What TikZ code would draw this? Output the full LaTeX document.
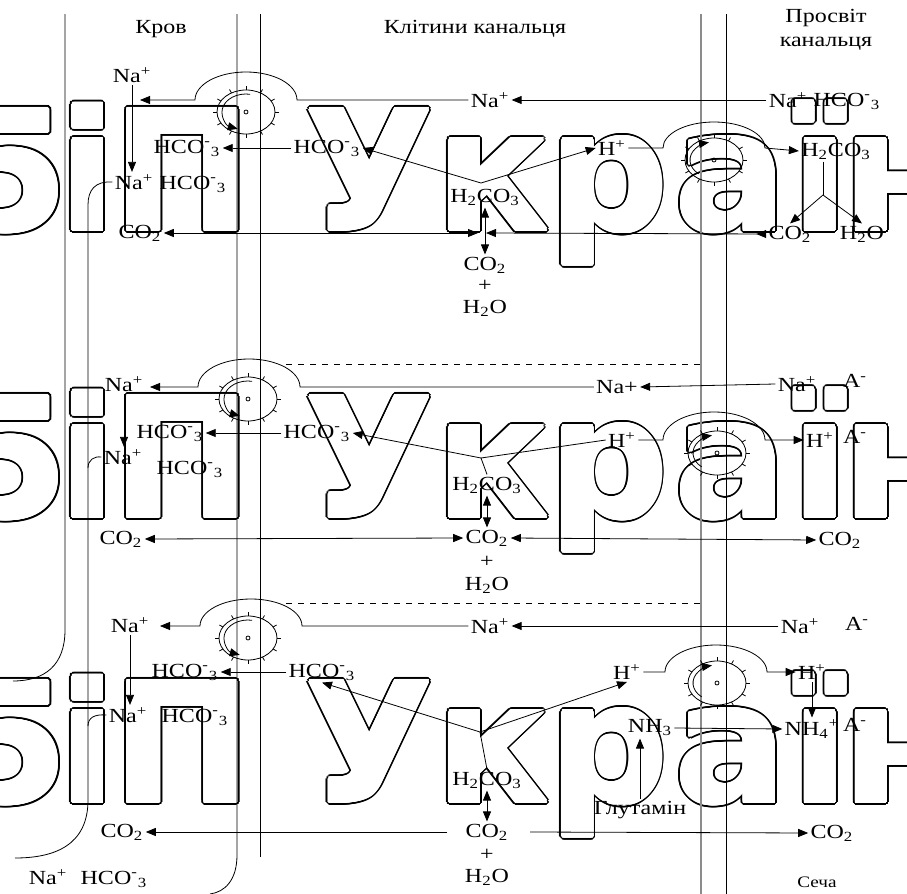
\documentclass[tikz,border=0pt]{standalone}
\usepackage{fontspec}
\setmainfont{Liberation Serif}[FakeStretch=1.2]
\newfontfamily\wmfont{DejaVu Sans}
\usetikzlibrary{arrows.meta, calc}
% one row of the watermark, glyph by glyph
\newcommand\wmrow{\rlap{\hspace*{-24.25pt}5}\rlap{\hspace*{29pt}і}\rlap{\hspace*{55.5pt}П}%
    \rlap{\hspace*{152pt}У}\rlap{\hspace*{217.5pt}к}\rlap{\hspace*{274pt}р}%
    \rlap{\hspace*{336.75pt}а}\rlap{\hspace*{395pt}ї}\rlap{\hspace*{420.5pt}н}}

\begin{document}
\begin{tikzpicture}[x=0.5pt, y=-0.5pt, >={Triangle[length=5pt,width=4pt]},
    line width=0.4pt, every node/.style={inner sep=1pt},
    wm/.style={font=\wmfont\bfseries\fontsize{83}{84}\selectfont, inner sep=0pt, anchor=base west},
    lumen/.style={black!45, line width=0.8pt},
    small/.style={font=\footnotesize}]
    \useasboundingbox (0,0) rectangle (907,894);
    \clip (0,0) rectangle (907,894);

    % Watermark letters, outlined
    \foreach \wy in {230,517,802}{
        \foreach \a in {0,22.5,...,337.5}
            \node[wm] (wmOut) at ([shift={(\a:3.5)}]0,\wy) {\wmrow};
        \foreach \a in {0,22.5,...,337.5}
            \node[wm, white] (wmIn) at ([shift={(\a:1.5)}]0,\wy) {\wmrow};
        \node[wm, white] (wmIn) at (0,\wy) {\wmrow};
    }

    % Titles
    \node (tBlood) at (161,29) {Кров};
    \node (tCell) at (475,29) {Клітини канальця};
    \node[align=center] (tLumen) at (826,30) {Просвіт\\канальця};

    % Membranes and walls
    \draw (65,14) -- (65,630) .. controls (65,665) and (45,681) .. (13,681);
    \draw (237,14) -- (237,855) .. controls (237,880) and (225,892) .. (210,894);
    \draw (260,14) -- (260,857);
    \draw[lumen] (701,14) -- (701,894);
    \draw (726,14) -- (726,894);
    \draw[dashed] (286,364) -- (700,364);
    \draw[dashed] (286,603) -- (700,603);

    % Pumps on the blood side
    \foreach \cx/\cy in {246/112, 248/399, 248/638}{
        \draw (\cx,\cy) ellipse [x radius=29, y radius=22];
        \draw (\cx,\cy) circle [radius=2];
        \foreach \t in {0,30,...,330}
            \draw ([shift={(\t:29 and 22)}]\cx,\cy) -- ([shift={(\t:33 and 26)}]\cx,\cy);
        \draw[->] ([shift={(280:24 and 18)}]\cx,\cy) arc [start angle=280, end angle=110, x radius=24, y radius=18];
    }
    % Pumps on the lumen side
    \foreach \cx/\cy in {714/160, 717/453, 717/683}{
        \draw (\cx,\cy) ellipse [x radius=29, y radius=22];
        \draw (\cx,\cy) circle [radius=2];
        \foreach \t in {0,30,...,330}
            \draw ([shift={(\t:29 and 22)}]\cx,\cy) -- ([shift={(\t:33 and 26)}]\cx,\cy);
        \draw[->] ([shift={(130:24 and 18)}]\cx,\cy) arc [start angle=130, end angle=258, x radius=24, y radius=18];
    }

    % ---------- Panel 1: HCO3 reabsorption ----------
    \node (naA1) at (132,75) {Na\textsuperscript{+}};
    \node (naB1) at (134,182) {Na\textsuperscript{+}};
    \node (hcoB1) at (193,184) {HCO\textsuperscript{-}\textsubscript{3}};
    \node (hcoL1) at (187,148) {HCO\textsuperscript{-}\textsubscript{3}};
    \node (hcoM1) at (327,148) {HCO\textsuperscript{-}\textsubscript{3}};
    \node (naM1) at (490,100) {Na\textsuperscript{+}};
    \node (naR1) at (788,100) {Na\textsuperscript{+}};
    \node (hcoR1) at (847,101) {HCO\textsuperscript{-}\textsubscript{3}};
    \node (hM1) at (612,148) {H\textsuperscript{+}};
    \node (hcR1) at (836,151) {H\textsubscript{2}CO\textsubscript{3}};
    \node (hc1) at (485,197) {H\textsubscript{2}CO\textsubscript{3}};
    \node (co2L1) at (140,233) {CO\textsubscript{2}};
    \node (co2R1) at (790,234) {CO\textsubscript{2}};
    \node (h2oR1) at (862,234) {H\textsubscript{2}O};
    \node (co2C1) at (485,265) {CO\textsubscript{2}};
    \node (plus1) at (485,286) {+};
    \node (h2oC1) at (485,308) {H\textsubscript{2}O};
    \coordinate (naTip1) at (140,100);
    \coordinate (fork1) at (481,183);
    \coordinate (forkR1) at (823,195);
    \coordinate (midL1) at (478,233);
    \coordinate (midR1) at (486,233);

    \draw[->] (naR1.west) -- (naM1.east);
    \draw[->] (naM1.west) -- (297,100) arc [start angle=0, end angle=-180, x radius=51, y radius=28] -- (naTip1);
    \draw[->] (naA1.south) -- (naA1.south |- naB1.north);
    \draw[->] (hcoM1.west) -- (hcoL1.east);
    \draw[->] (fork1) -- (hcoM1.east);
    \draw[->] (fork1) -- (hM1.west);
    \draw[<->] (hc1.south) -- (co2C1.north);
    \draw[<->] (co2L1.east) -- (midL1);
    \draw[{Triangle[length=5pt,width=4pt,reversed]}->] (co2R1.west) -- (midR1);
    \draw[->] (hM1.east) -- (663,148) arc [start angle=180, end angle=360, x radius=51, y radius=26] -- (hcR1.west);
    \draw (forkR1 |- hcR1.south) -- (forkR1);
    \draw[->] (forkR1) -- (co2R1.north);
    \draw[->] (forkR1) -- (h2oR1.north);
    \draw (naB1.west) .. controls (95,181) and (88,190) .. (88,205) -- (88,800) .. controls (88,845) and (55,858) .. (15,858);

    % ---------- Panel 2: titratable acid ----------
    \node (naA2) at (124,384) {Na\textsuperscript{+}};
    \node (naB2) at (123,457) {Na\textsuperscript{+}};
    \node (hcoB2) at (190,469) {HCO\textsuperscript{-}\textsubscript{3}};
    \node (hcoL2) at (170,433) {HCO\textsuperscript{-}\textsubscript{3}};
    \node (hcoM2) at (317,433) {HCO\textsuperscript{-}\textsubscript{3}};
    \node (naM2) at (617,387) {Na+};
    \node (naR2) at (797,384) {Na\textsuperscript{+}};
    \node (aR2) at (855,381) {A\textsuperscript{-}};
    \node (hM2) at (622,440) {H\textsuperscript{+}};
    \node (hR2) at (820,440) {H\textsuperscript{+}};
    \node (aR2b) at (855,437) {A\textsuperscript{-}};
    \node (hc2) at (487,485) {H\textsubscript{2}CO\textsubscript{3}};
    \node (co2L2) at (121,539) {CO\textsubscript{2}};
    \node (co2C2) at (487,538) {CO\textsubscript{2}};
    \node (co2R2) at (840,540) {CO\textsubscript{2}};
    \node (plus2) at (487,562) {+};
    \node (h2oC2) at (487,585) {H\textsubscript{2}O};
    \coordinate (naTip2) at (150,387);
    \coordinate (fork2) at (481,458);

    \draw[->] (naR2.west) -- (naM2.east);
    \draw[->] (naM2.west) -- (300,387) arc [start angle=0, end angle=-180, x radius=51, y radius=28] -- (naTip2);
    \draw[->] (naA2.south) -- (naA2.south |- naB2.north);
    \draw[->] (hcoM2.west) -- (hcoL2.east);
    \draw[->] (fork2) -- (hcoM2.east);
    \draw (fork2) -- (hM2.west);
    \draw (fork2) -- (hc2.north);
    \draw[<->] (hc2.south) -- (co2C2.north);
    \draw[<->] (co2L2.east) -- (co2C2.west);
    \draw[<->] (co2C2.east) -- (co2R2.west);
    \draw[->] (hM2.east) -- (663,440) arc [start angle=180, end angle=360, x radius=51, y radius=28] -- (hR2.west);
    \draw (naB2.west) .. controls (94,456) and (88,460) .. (88,468);

    % ---------- Panel 3: ammonia ----------
    \node (naA3) at (130,625) {Na\textsuperscript{+}};
    \node (naB3) at (128,715) {Na\textsuperscript{+}};
    \node (hcoB3) at (195,717) {HCO\textsuperscript{-}\textsubscript{3}};
    \node (hcoL3) at (185,672) {HCO\textsuperscript{-}\textsubscript{3}};
    \node (hcoM3) at (322,672) {HCO\textsuperscript{-}\textsubscript{3}};
    \node (naM3) at (490,626) {Na\textsuperscript{+}};
    \node (naR3) at (800,626) {Na\textsuperscript{+}};
    \node (aR3) at (857,624) {A\textsuperscript{-}};
    \node (hM3) at (627,672) {H\textsuperscript{+}};
    \node (hR3) at (812,672) {H\textsuperscript{+}};
    \node (nh4) at (812,729) {NH\textsubscript{4}\textsuperscript{+}};
    \node (aR3b) at (855,725) {A\textsuperscript{-}};
    \node (nh3) at (650,728) {NH\textsubscript{3}};
    \node (glut) at (640,810) {Глутамін};
    \node (hc3) at (487,780) {H\textsubscript{2}CO\textsubscript{3}};
    \node (co2L3) at (122,832) {CO\textsubscript{2}};
    \node (co2C3) at (487,832) {CO\textsubscript{2}};
    \node (co2R3) at (832,833) {CO\textsubscript{2}};
    \node (plus3) at (487,855) {+};
    \node (h2oC3) at (487,877) {H\textsubscript{2}O};
    \node[small] (urine) at (817,882) {Сеча};
    \node (naBot) at (48,877) {Na\textsuperscript{+}};
    \node (hcoBot) at (114,879) {HCO\textsuperscript{-}\textsubscript{3}};
    \coordinate (naTip3) at (160,626);
    \coordinate (fork3) at (480,732);
    \coordinate (co2a3) at (447,832);
    \coordinate (co2b3) at (530,832);

    \draw[->] (naR3.west) -- (naM3.east);
    \draw[->] (naM3.west) -- (302,626) arc [start angle=0, end angle=-180, x radius=51, y radius=27] -- (naTip3);
    \draw[->] (naA3.south) -- (naA3.south |- naB3.north);
    \draw[->] (hcoM3.west) -- (hcoL3.east);
    \draw[->] (fork3) -- (hcoM3.south);
    \draw[->] (fork3) -- (hM3.south);
    \draw (fork3) -- (hc3.north);
    \draw[<->] (hc3.south) -- (co2C3.north);
    \draw[->] (co2a3) -- (co2L3.east);
    \draw[->] (co2b3) -- (co2R3.west);
    \draw[->] (hM3.east) -- (665,672) arc [start angle=180, end angle=360, x radius=51, y radius=27] -- (hR3.west);
    \draw[->] (hR3.south) -- (nh4.north);
    \draw[->] (nh3.east) -- (nh4.west);
    \draw[->] (glut.north) -- (glut.north |- nh3.south);
    \draw (naB3.west) .. controls (94,714) and (88,718) .. (88,726);
\end{tikzpicture}
\end{document}
